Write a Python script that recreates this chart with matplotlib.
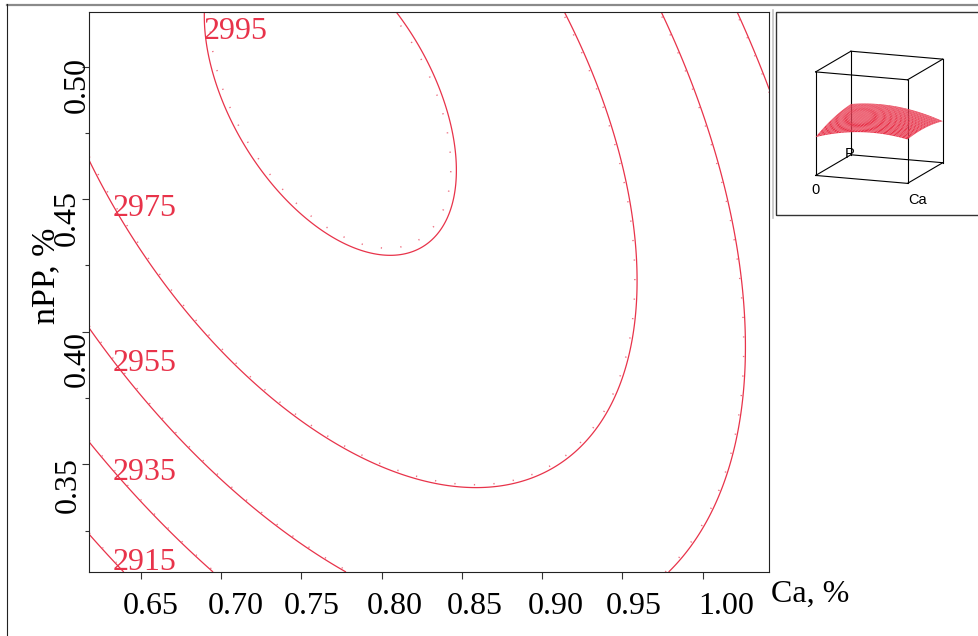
import numpy as np
import matplotlib
matplotlib.use("Agg")
import matplotlib.pyplot as plt
from matplotlib.transforms import ScaledTranslation
from matplotlib.patches import Rectangle
from matplotlib.lines import Line2D
from mpl_toolkits.mplot3d import proj3d

# Second-order response model:
# response = b0 + b_Ca*Ca + b_P*P + b_CaCa*Ca^2 + b_PP*P^2 + b_CaP*Ca*P
coef = [1768.79, 1816.07, 2175.45, -850.85, -1405.59, -1039.29]

levels = [2915, 2935, 2955, 2975, 2995]
ca_range = [0.6178, 1.0415]
p_range = [0.3094, 0.5206]
z_range = [2665, 3315]

x_ticks = [0.65, 0.70, 0.75, 0.80, 0.85, 0.90, 0.95, 1.00]
x_tick_labels = ["0.65", "0.70", "0.75", "0.80", "0.85", "0.90", "0.95", "1.00"]
y_ticks = [0.35, 0.40, 0.45, 0.50]
y_tick_labels = ["0.35", "0.40", "0.45", "0.50"]
y_minor_ticks = [0.325, 0.375, 0.425, 0.475]
x_label = "Ca, %"
y_label = "nPP, %"
inset_labels = ["0", "Ca", "P"]

RED = "#e8334a"
DOT = "#ee7284"
SERIF = ["Liberation Serif", "DejaVu Serif"]
SANS = ["Liberation Sans", "DejaVu Sans"]


def response(ca, p):
    b0, b1, b2, b11, b22, b12 = coef
    return b0 + b1 * ca + b2 * p + b11 * ca ** 2 + b22 * p ** 2 + b12 * ca * p


def p_on_level(ca, level):
    b0, b1, b2, b11, b22, b12 = coef
    roots = np.roots([b22, b2 + b12 * ca, b0 + b1 * ca + b11 * ca ** 2 - level])
    roots = roots[np.isreal(roots)].real
    lo, hi = p_range
    inside = roots[(roots >= lo) & (roots <= hi)]
    if inside.size:
        return inside.max()
    return roots[np.argmin(np.minimum(abs(roots - lo), abs(roots - hi)))]


plt.rcParams["font.family"] = SERIF
W, H = 979, 636
fig = plt.figure(figsize=(W / 100, H / 100), dpi=100)
fig.patch.set_facecolor("white")

# main contour panel
L, R, T, B = 89.3, 769.3, 12.0, 572.0
ax = fig.add_axes([L / W, (H - B) / H, (R - L) / W, (B - T) / H])

ca = np.linspace(ca_range[0], ca_range[1], 400)
pp = np.linspace(p_range[0], p_range[1], 400)
CA, PP = np.meshgrid(ca, pp)
Z = response(CA, PP)

ax.contour(CA, PP, Z, levels=levels, colors=RED, linewidths=0.9)
dots = ax.contour(CA, PP, Z, levels=[v + 0.35 for v in levels], colors=DOT,
                  linewidths=1.1)
dots.set_linestyle((0, (0.8, 12)))

# contour labels sit on their line, left-aligned at a fixed Ca
label_ca = {2915: 0.6326, 2935: 0.6326, 2955: 0.6326, 2975: 0.6326, 2995: 0.6893}
label_probe = {2915: 0.0012, 2935: 0.0012, 2955: 0.0012, 2975: 0.0012, 2995: 0.0006}
for lv in levels:
    x0 = label_ca[lv]
    y0 = p_on_level(x0 + label_probe[lv], lv)
    ax.text(x0, y0, str(lv), color=RED, fontsize=23, ha="left", va="center")

ax.set_xlim(ca_range)
ax.set_ylim(p_range)

ax.set_xticks(x_ticks)
ax.set_xticklabels(x_tick_labels)
ax.set_yticks(y_ticks)
ax.set_yticklabels(y_tick_labels)
ax.set_yticks(y_minor_ticks, minor=True)

for s in ax.spines.values():
    s.set_color("#222222")
    s.set_linewidth(0.8)
ax.tick_params(axis="both", which="major", direction="out", length=5,
               width=0.8, color="#333333", labelsize=23, labelcolor="black")
ax.tick_params(axis="x", which="major", pad=9.4)
ax.tick_params(axis="y", which="major", pad=3.6, labelrotation=90)
ax.tick_params(axis="y", which="minor", direction="out", length=2.6,
               width=0.8, color="#333333")

# x tick labels sit a little to the right of their ticks
x_shift = [10, 15, 10, 13, 13, 13.5, 11.5, 23]
for lab, dx in zip(ax.get_xticklabels(), x_shift):
    lab.set_transform(lab.get_transform() +
                      ScaledTranslation(dx / 100, 0, fig.dpi_scale_trans))

# y tick labels run along the axis, hanging below their ticks, staggered
y_shift = [(-9, -20.5), (0, -27), (-10, -19), (0, -18)]
for lab, (dx, dy) in zip(ax.get_yticklabels(), y_shift):
    lab.set_ha("center")
    lab.set_va("center")
    lab.set_transform(lab.get_transform() +
                      ScaledTranslation(dx / 100, dy / 100, fig.dpi_scale_trans))

ax.set_xlabel(x_label, fontsize=23, ha="left", va="center")
ax.xaxis.set_label_coords((771 - L) / (R - L), -(594 - B) / (B - T))
ax.set_ylabel(y_label, fontsize=24.5, ha="center", va="center")
ax.yaxis.set_label_coords(-(L - 46) / (R - L), (B - 276) / (B - T))

# page frame
fig.add_artist(Line2D([7.3 / W, 1.0], [(H - 4.7) / H] * 2,
                      transform=fig.transFigure, color="#8a8a8a", lw=1.6))
fig.add_artist(Line2D([7.3 / W] * 2, [0.0, (H - 4.0) / H],
                      transform=fig.transFigure, color="#222222", lw=0.8))

# inset frame
fig.add_artist(Line2D([773.5 / W] * 2, [(H - 218) / H, (H - 10) / H],
                      transform=fig.transFigure, color="#c4c4c4", lw=1.2))
fig.add_artist(Rectangle((776.5 / W, (H - 215.5) / H), (W - 776.5) / W + 0.01,
                         (215.5 - 11.7) / H, fill=False, ec="#333333", lw=1.0,
                         transform=fig.transFigure))

# 3-D view of the same response surface
cx, cy, side = 876.5, 120.0, 200.0
ax3 = fig.add_axes([(cx - side / 2) / W, (H - cy - side / 2) / H, side / W, side / H],
                   projection="3d", proj_type="ortho", computed_zorder=False)
ax3.patch.set_alpha(0)
ax3.set_axis_off()
ax3.view_init(elev=13, azim=-69)
ax3.set_box_aspect((1, 1, 1.08), zoom=0.85)
ax3.set_xlim(ca_range)
ax3.set_ylim(p_range)
ax3.set_zlim(z_range)

x0, x1 = ca_range
y0, y1 = p_range
z0, z1 = z_range
for xs, ys, zs in [
    ([x0, x1], [y0, y0], [z0, z0]), ([x0, x1], [y1, y1], [z0, z0]),
    ([x0, x1], [y0, y0], [z1, z1]), ([x0, x1], [y1, y1], [z1, z1]),
    ([x0, x0], [y0, y1], [z0, z0]), ([x1, x1], [y0, y1], [z0, z0]),
    ([x0, x0], [y0, y1], [z1, z1]), ([x1, x1], [y0, y1], [z1, z1]),
    ([x0, x0], [y0, y0], [z0, z1]), ([x1, x1], [y0, y0], [z0, z1]),
    ([x0, x0], [y1, y1], [z0, z1]), ([x1, x1], [y1, y1], [z0, z1]),
]:
    ax3.plot(xs, ys, zs, color="black", lw=0.8, zorder=1)

sca = np.linspace(x0, x1, 30)
spp = np.linspace(y0, y1, 30)
SCA, SPP = np.meshgrid(sca, spp)
ax3.plot_surface(SCA, SPP, response(SCA, SPP), color=RED, shade=False,
                 edgecolor=(1.0, 0.75, 0.78, 0.25), linewidth=0.1,
                 rstride=1, cstride=1, zorder=2)

# corner labels of the 3-D box, placed at the projected corners
fig.canvas.draw()
M = ax3.get_proj()
corner_pts = [(x0, y0, z0), (x1, y0, z0), (x0, y1, z0)]
corner_fmt = [("center", "top", 0, -8), ("left", "top", 1, -10), ("center", "center", -1, 1)]
for (qx, qy, qz), txt, (ha, va, dx, dy) in zip(corner_pts, inset_labels, corner_fmt):
    sx, sy, _ = proj3d.proj_transform(qx, qy, qz, M)
    dxp, dyp = ax3.transData.transform((sx, sy))
    fig.text(dxp / W, dyp / H, txt, family=SANS, fontsize=10.5, ha=ha, va=va,
             transform=fig.transFigure +
             ScaledTranslation(dx / 100, dy / 100, fig.dpi_scale_trans),
             zorder=5)

fig.savefig("out.png", dpi=100, facecolor="white")
